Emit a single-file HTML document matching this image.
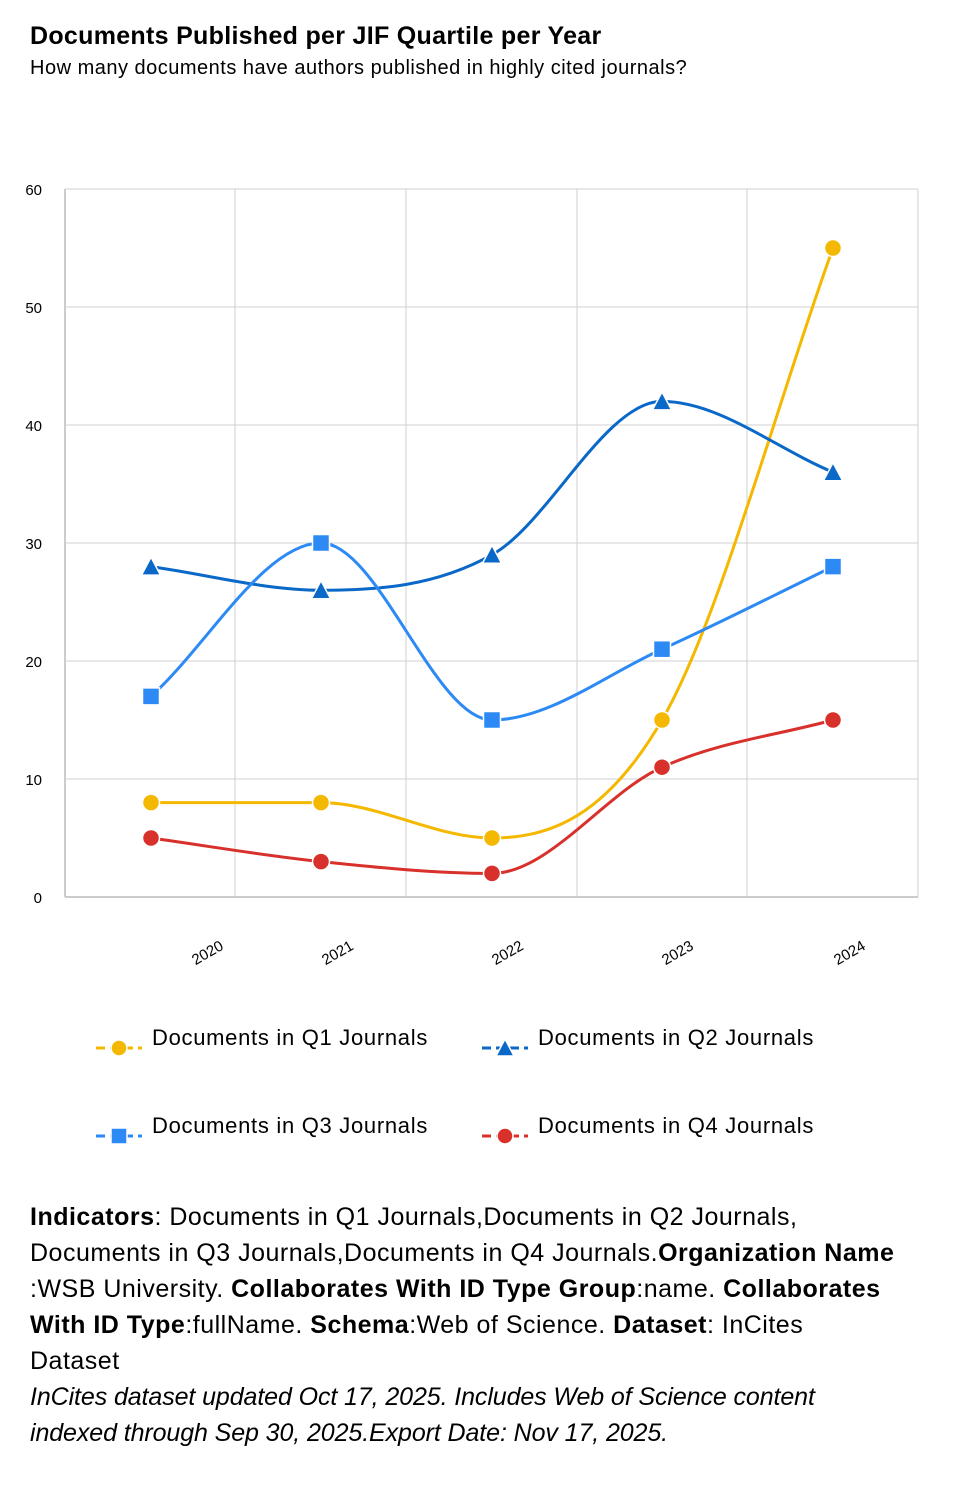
<!DOCTYPE html>
<html><head><meta charset="utf-8"><style>
body{margin:0;background:#fff;width:972px;height:1508px;overflow:hidden;font-family:"Liberation Sans",sans-serif;color:#000;position:relative}
.t{position:absolute;white-space:nowrap}
i{letter-spacing:-0.1px}
</style></head><body>
<div class="t" style="left:30px;top:22px;font-size:25px;font-weight:bold;letter-spacing:0.3px">Documents Published per JIF Quartile per Year</div>
<div class="t" style="left:30px;top:57px;font-size:20px;letter-spacing:0.5px">How many documents have authors published in highly cited journals?</div>
<svg id="c" width="972" height="1200" style="position:absolute;left:0;top:0" font-family="Liberation Sans, sans-serif"></svg>
<div class="t" style="left:30px;top:1199px;font-size:25px;line-height:36px;letter-spacing:0.5px">
<b>Indicators</b>: Documents in Q1 Journals,Documents in Q2 Journals,<br>
Documents in Q3 Journals,Documents in Q4 Journals.<b>Organization Name</b><br>
:WSB University. <b>Collaborates With ID Type Group</b>:name. <b>Collaborates</b><br>
<b>With ID Type</b>:fullName. <b>Schema</b>:Web of Science. <b>Dataset</b>: InCites<br>
Dataset<br>
<i>InCites dataset updated Oct 17, 2025. Includes Web of Science content</i><br>
<i>indexed through Sep 30, 2025.Export Date: Nov 17, 2025.</i></div>
<script>
var s='',X0=65,X1=918,Y=function(v){return 897-v*11.8};
for(var v=0;v<=60;v+=10){s+='<line x1="'+X0+'" x2="'+X1+'" y1="'+Y(v)+'" y2="'+Y(v)+'" stroke="#d0d0d0"/>';s+='<text x="42" y="'+(Y(v)+6)+'" font-size="15" text-anchor="end">'+v+'</text>';}
[235,406,577,747,918].forEach(function(x){s+='<line x1="'+x+'" x2="'+x+'" y1="189" y2="897" stroke="#d0d0d0"/>';});
s+='<line x1="65" x2="65" y1="189" y2="897" stroke="#ccc" stroke-width="2"/><line x1="65" x2="918" y1="897" y2="897" stroke="#ccc" stroke-width="2"/>';
var xs=[151,321,492,662,833],yrs=['2020','2021','2022','2023','2024'];
[210,340,510,680,852].forEach(function(x,i){s+='<text transform="translate('+x+',957) rotate(-30)" font-size="15" text-anchor="middle">'+yrs[i]+'</text>';});
function path(d){var n=d.length,p=d.map(function(v,i){return [xs[i],Y(v)]}),m=[],dl=[];
for(var i=0;i<n-1;i++)dl.push((p[i+1][1]-p[i][1])/(p[i+1][0]-p[i][0]));
for(i=0;i<n;i++){if(i==0)m.push(dl[0]);else if(i==n-1)m.push(dl[n-2]);else m.push(dl[i-1]*dl[i]<=0?0:(dl[i-1]+dl[i])/2);}
for(i=0;i<n-1;i++){if(dl[i]==0){m[i]=m[i+1]=0;continue;}var a=m[i]/dl[i],b=m[i+1]/dl[i],t=a*a+b*b;if(t>9){t=3/Math.sqrt(t);m[i]=t*a*dl[i];m[i+1]=t*b*dl[i];}}
var str='M'+p[0][0]+','+p[0][1];for(i=0;i<n-1;i++){var h=(p[i+1][0]-p[i][0])/3;str+=' C'+(p[i][0]+h)+','+(p[i][1]+m[i]*h)+' '+(p[i+1][0]-h)+','+(p[i+1][1]-m[i+1]*h)+' '+p[i+1][0]+','+p[i+1][1];}return str;}
function mk(t,x,y,c,r){if(t=='c')return '<circle cx="'+x+'" cy="'+y+'" r="'+r+'" fill="'+c+'" stroke="#fff" stroke-width="1.5"/>';
if(t=='s')return '<rect x="'+(x-r)+'" y="'+(y-r)+'" width="'+2*r+'" height="'+2*r+'" fill="'+c+'" stroke="#fff" stroke-width="1.5"/>';
return '<polygon points="'+x+','+(y-r-1)+' '+(x+r+1)+','+(y+r)+' '+(x-r-1)+','+(y+r)+'" fill="'+c+'" stroke="#fff" stroke-width="1.5"/>';}
var S=[[[8,8,5,15,55],'#f5b800','c'],[[28,26,29,42,36],'#0a68c8','t'],[[17,30,15,21,28],'#2d8af5','s'],[[5,3,2,11,15],'#d8302a','c']];
S.forEach(function(q){s+='<path d="'+path(q[0])+'" fill="none" stroke="'+q[1]+'" stroke-width="3"/>';q[0].forEach(function(v,i){s+=mk(q[2],xs[i],Y(v),q[1],8.5);});});
var L=[[96,1048,'Documents in Q1 Journals'],[482,1048,'Documents in Q2 Journals'],[96,1136,'Documents in Q3 Journals'],[482,1136,'Documents in Q4 Journals']];
L.forEach(function(l,i){var q=S[i];s+='<line x1="'+l[0]+'" x2="'+(l[0]+46)+'" y1="'+l[1]+'" y2="'+l[1]+'" stroke="'+q[1]+'" stroke-width="3" stroke-dasharray="9,5"/>'+mk(q[2],l[0]+23,l[1],q[1],8)+'<text x="'+(l[0]+56)+'" y="'+(l[1]-3)+'" font-size="22" letter-spacing="0.7">'+l[2]+'</text>';});
document.getElementById('c').innerHTML=s;
</script>
</body></html>
